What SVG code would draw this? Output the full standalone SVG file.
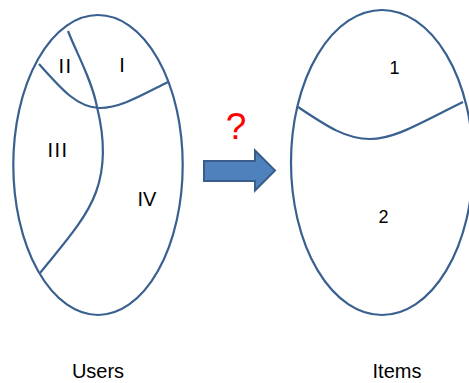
<svg xmlns="http://www.w3.org/2000/svg" width="469" height="383" viewBox="0 0 469 383">
<style>
.ln{fill:none;stroke:#3a6090;stroke-width:2.2}
.lb{font-family:"Liberation Sans",Arial,sans-serif;font-size:20px;fill:#000;text-anchor:middle}
</style>
<rect width="469" height="383" fill="#fff"/>
<g id="users">
<ellipse class="ln" cx="98" cy="165" rx="84.7" ry="150"/>
<text class="lb" x="65.5" y="72.5" letter-spacing="1.5">II</text>
<text class="lb" x="122" y="72">I</text>
<text class="lb" x="58" y="156.5" letter-spacing="1.5">III</text>
<text class="lb" x="147" y="206">IV</text>
<text class="lb" x="98" y="377.5">Users</text>
</g>
<g id="items">
<ellipse class="ln" cx="382" cy="162.5" rx="91" ry="152.5"/>
<text class="lb" x="394.5" y="74" style="font-size:18px">1</text>
<text class="lb" x="383.5" y="222.5" style="font-size:18px">2</text>
<text class="lb" x="397" y="378">Items</text>
</g>
<g id="connectors">
<path class="ln" d="M39,64 C62,90 78,108 100,108 C120,108 140,96 168,82"/>
<path class="ln" d="M68,31 C76,52 92,80 97,107 C104,135 106,165 96,192 C86,220 60,248 40,273"/>
<path class="ln" d="M298,107 C325,125 345,139 370,139 C395,139 420,123 463,102"/>
</g>
<g id="arrow">
<polygon points="204,161 255,161 255,150.5 275,170.5 255,190.5 255,181 204,181" fill="#4f81bd" stroke="#385d8a" stroke-width="2"/>
<text x="236" y="139" style="font-family:'Liberation Sans',Arial,sans-serif;font-size:37px;fill:#ff0000;text-anchor:middle">?</text>
</g>
</svg>
